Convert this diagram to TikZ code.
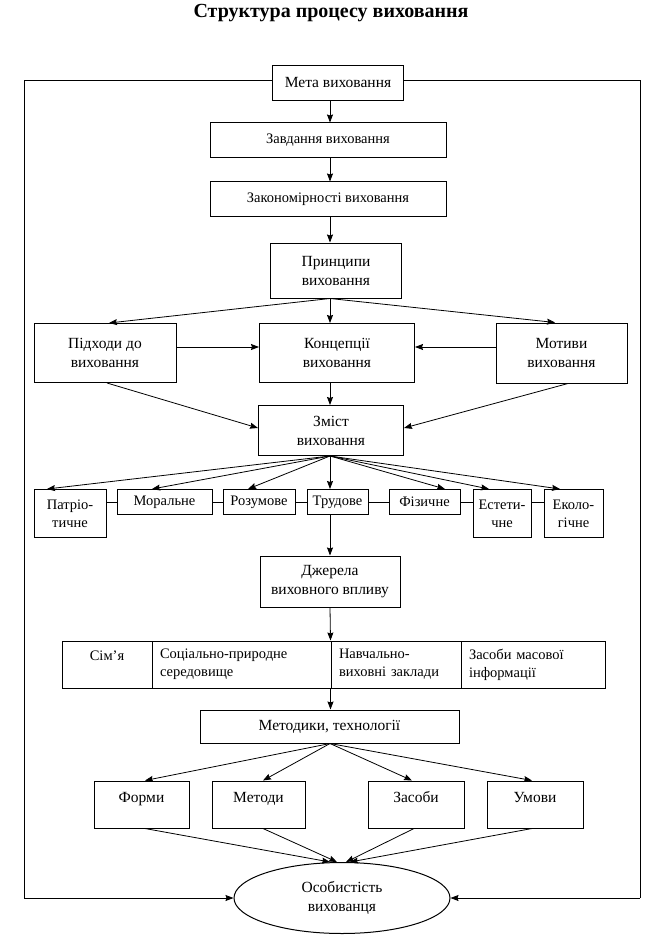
\documentclass[tikz,border=0pt]{standalone}
\usepackage{fontspec}
\setmainfont{Liberation Serif}
\usetikzlibrary{arrows.meta,shapes.geometric,calc}
\begin{document}
\begin{tikzpicture}[x=1pt,y=-1pt,
  txt/.style={font=\fontsize{15.5}{19}\selectfont},
  stxt/.style={font=\fontsize{14.5}{18}\selectfont},
  bx/.style={draw, line width=1pt, inner sep=2pt, align=center, txt},
  sbx/.style={bx, stxt},
  fbx/.style={bx, minimum height=47, text height=11pt, text depth=16pt},
  cell/.style={draw, line width=1pt, inner xsep=8pt, inner ysep=2pt, align=left, stxt, minimum height=47},
  ar/.style={-{Stealth[length=8pt,width=6pt,inset=1pt]}, line width=0.8pt},
  ln/.style={line width=1pt}]
\useasboundingbox[fill=white] (0,0) rectangle (666,941);
\coordinate (sp) at (330,0);
% title
\node[font=\bfseries\fontsize{20}{22}\selectfont] (title) at (331,13) {Структура процесу виховання};
% top chain
\node[bx, minimum width=131, minimum height=35] (meta) at (338,83) {Мета виховання};
\node[sbx, minimum width=236, minimum height=35] (zavd) at (328,140.5) {Завдання виховання};
\node[sbx, minimum width=236, minimum height=35] (zakon) at (328,199.5) {Закономірності виховання};
\node[bx, minimum width=131, minimum height=55] (pryn) at (336,270.5) {Принципи\\виховання};
\node[bx, minimum width=142, minimum height=59] (pidh) at (105,353) {Підходи до\\виховання};
\node[bx, minimum width=155, minimum height=59] (konc) at (337,353) {Концепції\\виховання};
\node[bx, minimum width=131, minimum height=60] (motyv) at (561.5,353) {Мотиви\\виховання};
\node[bx, minimum width=145, minimum height=50] (zmist) at (331,430.5) {Зміст\\виховання};
% kinds of upbringing
\node[sbx, anchor=north, minimum width=72, minimum height=48] (patr) at (70,489) {Патріо-\\тичне};
\node[sbx, anchor=north, minimum width=95, minimum height=25] (moral) at (164.5,489) {Моральне};
\node[sbx, anchor=north, minimum width=72, minimum height=25] (rozum) at (259,489) {Розумове};
\node[sbx, anchor=north, minimum width=61, minimum height=25] (trud) at (337.5,489) {Трудове};
\node[sbx, anchor=north, minimum width=71, minimum height=25] (fiz) at (424.5,489) {Фізичне};
\node[sbx, anchor=north, minimum width=58, minimum height=48] (estet) at (502,489) {Естети-\\чне};
\node[sbx, anchor=north, minimum width=59, minimum height=48] (ekol) at (573.5,489) {Еколо-\\гічне};
% sources
\node[bx, minimum width=140, minimum height=51] (dzher) at (330,581.5) {Джерела\\виховного впливу};
\node[cell, align=center, text width=74, minimum width=90] (sim) at (107,664.5) {Сім’я\\\mbox{}};
\node[cell, text width=163] (soc) at (241.5,664.5) {Соціально-природне\\середовище};
\node[cell, text width=114] (navch) at (396,664.5) {Навчально-\\виховні заклади};
\node[cell, text width=128] (zmi) at (533,664.5) {Засоби масової\\інформації};
% methods
\node[bx, minimum width=259, minimum height=33] (metod) at (329.5,726.5) {Методики, технології};
\node[fbx, minimum width=95] (forma) at (141.5,804.5) {Форми};
\node[fbx, minimum width=93] (metody) at (258.5,804.5) {Методи};
\node[fbx, minimum width=96] (zasoby) at (416,804.5) {Засоби};
\node[fbx, minimum width=96] (umovy) at (535,804.5) {Умови};
\node[draw, line width=1pt, ellipse, minimum width=216, minimum height=71, inner sep=0pt, align=center, txt] (osob) at (342,898) {Особистість\\вихованця};
% frame
\coordinate (ftl) at (24,81);
\coordinate (ftr) at (640,81);
\coordinate (fbl) at (24,898);
\coordinate (fbr) at (640,898);
\draw[ln] (meta.west |- ftl) -- (ftl) -- (fbl);
\draw[ln] (meta.east |- ftr) -- (ftr) -- (fbr);
\draw[ar] (fbl) -- (osob.west);
\draw[ar] (fbr) -- (osob.east);
% chain arrows
\draw[ar] (meta.south -| sp) -- (zavd.north -| sp);
\draw[ar] (zavd.south -| sp) -- (zakon.north -| sp);
\draw[ar] (zakon.south -| sp) -- (pryn.north -| sp);
\draw[ar] (pryn.south -| sp) -- ([xshift=4pt]pidh.north);
\draw[ar] (pryn.south -| sp) -- (konc.north -| sp);
\draw[ar] (pryn.south -| sp) -- ([xshift=-6.5pt]motyv.north);
\draw[ar] ([yshift=6pt]pidh.east) -- ([yshift=6pt]pidh.east -| konc.west);
\draw[ar] ([yshift=6pt]motyv.west) -- ([yshift=6pt]motyv.west -| konc.east);
\draw[ar] ([xshift=2pt]pidh.south) -- ([yshift=2.5pt]zmist.west);
\draw[ar] ([xshift=6.5pt]motyv.south) -- ([yshift=2.5pt]zmist.east);
\draw[ar] (konc.south -| sp) -- (zmist.north -| sp);
% to kinds
\draw[ar] (zmist.south -| sp) -- ([xshift=-23pt]patr.north);
\draw[ar] (zmist.south -| sp) -- ([xshift=-12.5pt]moral.north);
\draw[ar] (zmist.south -| sp) -- ([xshift=-11pt]rozum.north);
\draw[ar] (zmist.south -| sp) -- (trud.north -| sp);
\draw[ar] (zmist.south -| sp) -- ([xshift=20.5pt]fiz.north);
\draw[ar] (zmist.south -| sp) -- ([xshift=-13pt]estet.north);
\draw[ar] (zmist.south -| sp) -- ([xshift=-13.5pt]ekol.north);
\draw[ln] (patr.east |- moral.west) -- (moral.west);
\draw[ln] (moral.east) -- (rozum.west);
\draw[ln] (rozum.east) -- (trud.west);
\draw[ln] (trud.east) -- (fiz.west);
\draw[ln] (fiz.east) -- (fiz.east -| estet.west);
\draw[ln] (estet.east |- fiz.east) -- (fiz.east -| ekol.west);
% sources
\draw[ar] (trud.south -| sp) -- (dzher.north -| sp);
\draw[ar] (dzher.south -| sp) -- (navch.north west);
\draw[ar] (navch.south west) -- (navch.south west |- metod.north);
% methods
\draw[ar] (metod.south -| sp) -- ([xshift=3.5pt]forma.north);
\draw[ar] (metod.south -| sp) -- ([xshift=4.5pt]metody.north);
\draw[ar] (metod.south -| sp) -- ([xshift=-4pt]zasoby.north);
\draw[ar] (metod.south -| sp) -- ([xshift=-3pt]umovy.north);
\draw[ar] ([xshift=3.5pt]forma.south) -- ([xshift=-12pt]osob.north);
\draw[ar] ([xshift=4.5pt]metody.south) -- ([xshift=-5pt]osob.north);
\draw[ar] ([xshift=-2pt]zasoby.south) -- ([xshift=4pt]osob.north);
\draw[ar] ([xshift=-3pt]umovy.south) -- ([xshift=8pt]osob.north);
\end{tikzpicture}
\end{document}
